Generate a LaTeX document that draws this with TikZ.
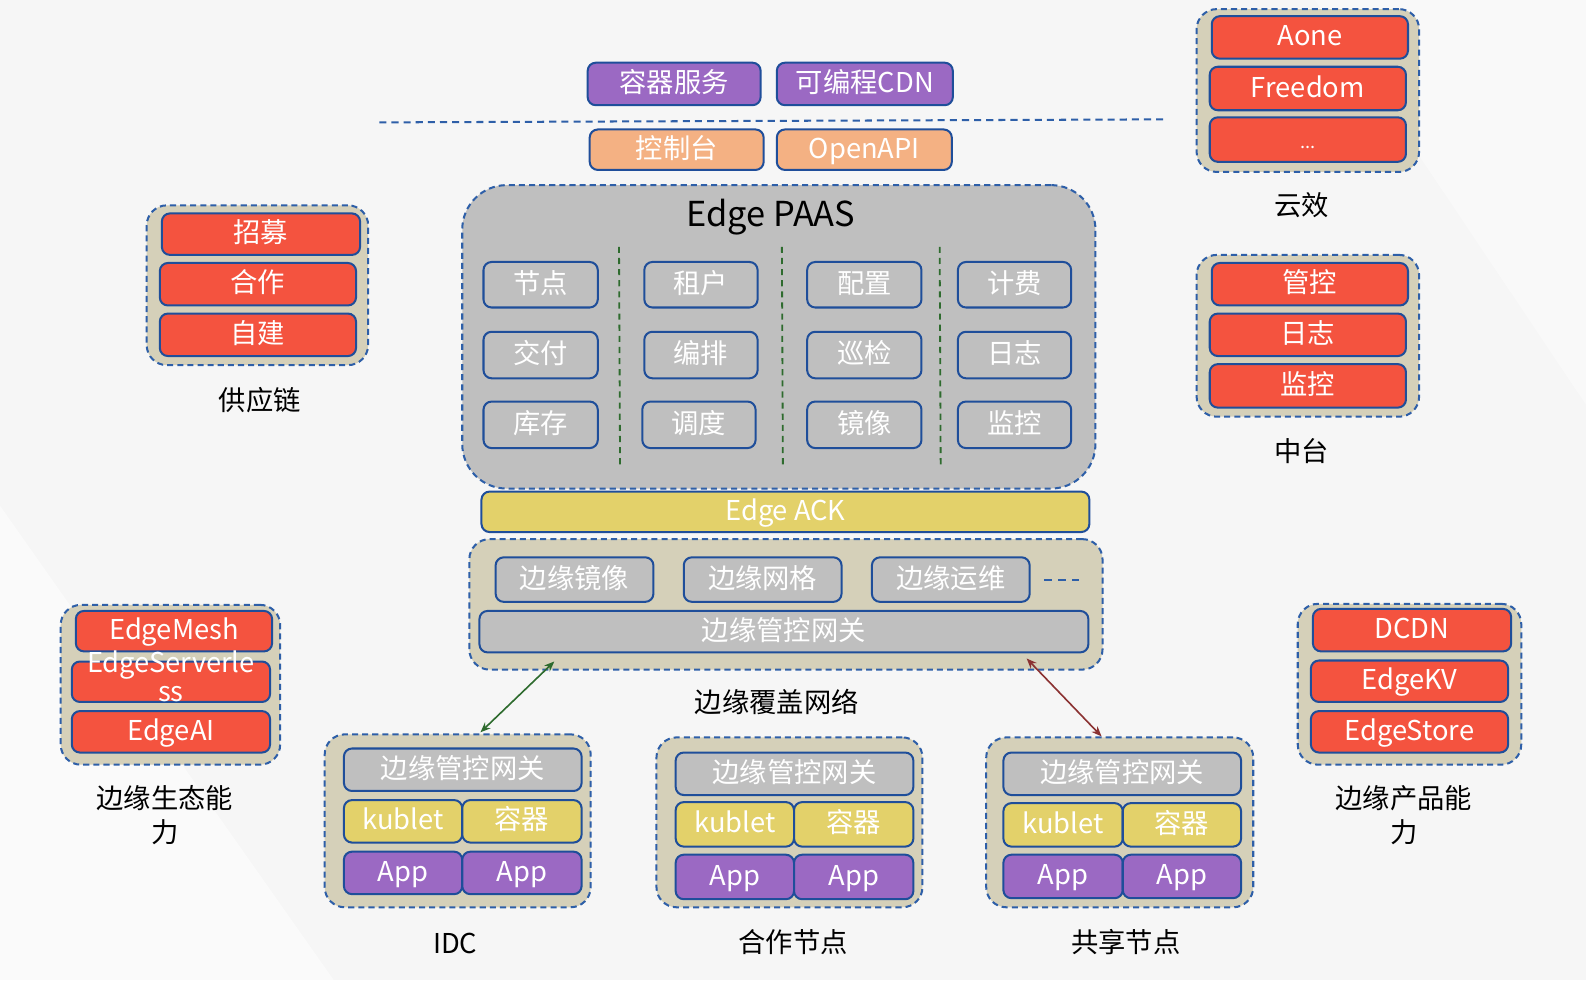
\documentclass[tikz,border=0pt]{standalone}
\usepackage{fontspec}
\setmainfont{Noto Sans CJK SC}
\usetikzlibrary{arrows.meta}
\definecolor{bgc}{HTML}{F6F6F6}
\definecolor{bordc}{HTML}{1F4E9A}
\definecolor{dashc}{HTML}{2E5FA8}
\definecolor{redc}{HTML}{F4533F}
\definecolor{purc}{HTML}{9B69C3}
\definecolor{orac}{HTML}{F4B183}
\definecolor{grayc}{HTML}{BFBFBF}
\definecolor{yelc}{HTML}{E3D16A}
\definecolor{khaki}{HTML}{D5D0B9}
\definecolor{grnc}{HTML}{2E6B2E}
\definecolor{redarr}{HTML}{8B3232}
\newcommand{\fs}{\fontsize{13.5}{16.5}\selectfont}
\newcommand{\bx}[7]{\node[#6, minimum width={(#4-#2)*0.5pt}, minimum height={(#5-#3)*0.5pt}] (#1) at ({(#2+#4)/2},{(#3+#5)/2}) {#7};}
\begin{document}
\begin{tikzpicture}[x=0.5pt,y=-0.5pt,
  inbox/.style={draw=bordc, line width=1pt, rounded corners=4pt, inner sep=0pt, outer sep=0pt, text=white, font=\fs, text height=0.92em, text depth=0.08em},
  redb/.style={inbox, fill=redc},
  purb/.style={inbox, fill=purc},
  orab/.style={inbox, fill=orac},
  grayb/.style={inbox, fill=grayc},
  yelb/.style={inbox, fill=yelc},
  grp/.style={draw=dashc, dash pattern=on 3pt off 2pt, line width=1pt, fill=khaki, rounded corners=10pt, inner sep=0pt, outer sep=0pt},
  paasbox/.style={grp, fill=grayc, rounded corners=22pt},
  lbl/.style={font=\fs, text=black, align=center},
  sep/.style={draw=grnc, dash pattern=on 3pt off 2.5pt, line width=0.9pt},
  darr/.style={{Stealth[length=5pt,width=4pt]}-{Stealth[length=5pt,width=4pt]}, line width=0.8pt}
]
\useasboundingbox (0,0) rectangle (1568,969);
\fill[bgc] (0,0) rectangle (1568,969);
\fill[white, opacity=0.5] (0,969) -- (0,500) -- (330,969) -- cycle;
\fill[white, opacity=0.4] (1568,0) -- (1300,0) -- (1568,400) -- cycle;

% top services
\bx{svc}{581}{62}{752}{104}{purb}{容器服务}
\bx{cdn}{768}{62}{942}{104}{purb}{可编程CDN}
\coordinate (dl) at (375,121);
\coordinate (dr) at (1153,118);
\draw[draw=dashc, dash pattern=on 3.5pt off 2.5pt, line width=1pt] (dl) -- (dr);
\bx{con}{583}{128}{755}{168}{orab}{控制台}
\bx{api}{768}{128}{941}{168}{orab}{OpenAPI}

% Edge PAAS
\bx{paas}{457}{183}{1083}{483}{paasbox}{}
\node[font=\fontsize{17}{20}\selectfont, text=black] (paast) at (762,215) {Edge PAAS};
\bx{p11}{478}{259}{591}{304}{grayb}{节点}
\bx{p12}{478}{328}{591}{374}{grayb}{交付}
\bx{p13}{478}{397}{591}{443}{grayb}{库存}
\bx{p21}{637}{259}{749}{304}{grayb}{租户}
\bx{p22}{637}{328}{749}{374}{grayb}{编排}
\bx{p23}{635}{397}{747}{443}{grayb}{调度}
\bx{p31}{798}{259}{911}{304}{grayb}{配置}
\bx{p32}{798}{328}{911}{374}{grayb}{巡检}
\bx{p33}{798}{397}{911}{443}{grayb}{镜像}
\bx{p41}{947}{259}{1059}{304}{grayb}{计费}
\bx{p42}{947}{328}{1059}{374}{grayb}{日志}
\bx{p43}{947}{397}{1059}{443}{grayb}{监控}
\coordinate (s1t) at (612,244); \coordinate (s1b) at (613,461);
\coordinate (s2t) at (773,244); \coordinate (s2b) at (774,461);
\coordinate (s3t) at (929,244); \coordinate (s3b) at (930,461);
\draw[sep] (s1t) -- (s1b);
\draw[sep] (s2t) -- (s2b);
\draw[sep] (s3t) -- (s3b);

% Edge ACK
\bx{ack}{476}{486}{1077}{526}{yelb}{Edge ACK}

% overlay network
\bx{ovl}{464}{533}{1090}{662}{grp}{}
\bx{m1}{490}{551}{646}{595}{grayb}{边缘镜像}
\bx{m2}{676}{551}{832}{595}{grayb}{边缘网格}
\bx{m3}{862}{551}{1018}{595}{grayb}{边缘运维}
\coordinate (mdl) at (1032,573);
\coordinate (mdr) at (1067,573);
\draw[draw=dashc, dash pattern=on 4pt off 3pt, line width=1pt] (mdl) -- (mdr);
\bx{gw}{474}{604}{1076}{645}{grayb}{边缘管控网关}
\node[lbl] (ovll) at (768,694) {边缘覆盖网络};

% IDC
\bx{idc}{321}{726}{584}{897}{grp}{}
\bx{idcg}{340}{740}{575}{782}{grayb}{边缘管控网关}
\bx{idck}{340}{791}{457}{833}{yelb}{kublet}
\bx{idcc}{457}{791}{575}{833}{yelb}{容器}
\bx{idca}{340}{842}{457}{884}{purb}{App}
\bx{idcb}{457}{842}{575}{884}{purb}{App}
\node[lbl] (idcl) at (450,933) {IDC};

% partner nodes
\bx{hz}{649}{729}{912}{897}{grp}{}
\bx{hzg}{668}{744}{903}{786}{grayb}{边缘管控网关}
\bx{hzk}{668}{793}{785}{837}{yelb}{kublet}
\bx{hzc}{785}{793}{903}{837}{yelb}{容器}
\bx{hza}{668}{845}{785}{889}{purb}{App}
\bx{hzb}{785}{845}{903}{889}{purb}{App}
\node[lbl] (hzl) at (784,931) {合作节点};

% shared nodes
\bx{gx}{975}{729}{1239}{897}{grp}{}
\bx{gxg}{992}{744}{1227}{786}{grayb}{边缘管控网关}
\bx{gxk}{992}{794}{1110}{837}{yelb}{kublet}
\bx{gxc}{1110}{794}{1227}{837}{yelb}{容器}
\bx{gxa}{992}{845}{1110}{888}{purb}{App}
\bx{gxb}{1110}{845}{1227}{888}{purb}{App}
\node[lbl] (gxl) at (1113,931) {共享节点};

% arrows
\coordinate (ga) at (548,654);
\coordinate (gb) at (475,724);
\draw[darr, draw=grnc] (ga) -- (gb);
\coordinate (ra) at (1015,651);
\coordinate (rb) at (1089,728);
\draw[darr, draw=redarr] (ra) -- (rb);

% supply chain
\bx{sc}{145}{203}{364}{361}{grp}{}
\bx{sc1}{160}{211}{356}{252}{redb}{招募}
\bx{sc2}{158}{260}{352}{302}{redb}{合作}
\bx{sc3}{158}{310}{352}{352}{redb}{自建}
\node[lbl] (scl) at (257,396) {供应链};

% edge ecosystem
\bx{eco}{60}{598}{277}{756}{grp}{}
\bx{eco1}{75}{604}{269}{644}{redb}{EdgeMesh}
\bx{eco2}{71}{654}{267}{694}{redb}{\raisebox{0.1em}{\smash{\begin{tabular}{@{}c@{}}EdgeServerle\\[-2pt]ss\end{tabular}}}}
\bx{eco3}{71}{703}{267}{744}{redb}{EdgeAI}
\node[lbl] (ecol) at (163,806) {边缘生态能\\力};

% yunxiao
\bx{yx}{1183}{9}{1403}{170}{grp}{}
\bx{yx1}{1198}{16}{1392}{58}{redb}{Aone}
\bx{yx2}{1196}{66}{1390}{109}{redb}{Freedom}
\bx{yx3}{1196}{116}{1390}{160}{redb}{\fontsize{9}{10}\selectfont ...}
\node[lbl] (yxl) at (1287,203) {云效};

% middle platform
\bx{zt}{1183}{252}{1403}{412}{grp}{}
\bx{zt1}{1198}{260}{1392}{302}{redb}{管控}
\bx{zt2}{1196}{310}{1390}{352}{redb}{日志}
\bx{zt3}{1196}{360}{1390}{403}{redb}{监控}
\node[lbl] (ztl) at (1287,446) {中台};

% edge products
\bx{ep}{1283}{597}{1504}{756}{grp}{}
\bx{ep1}{1298}{602}{1494}{644}{redb}{DCDN}
\bx{ep2}{1296}{653}{1491}{694}{redb}{EdgeKV}
\bx{ep3}{1296}{703}{1491}{744}{redb}{EdgeStore}
\node[lbl] (epl) at (1388,806) {边缘产品能\\力};
\end{tikzpicture}
\end{document}
